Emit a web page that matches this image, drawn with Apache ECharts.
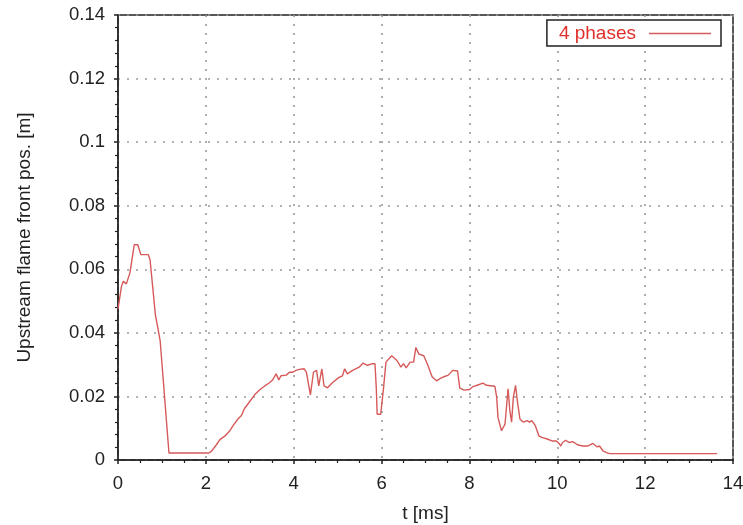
<!DOCTYPE html>
<html><head><meta charset="utf-8">
<script src="https://cdn.jsdelivr.net/npm/echarts@6/dist/echarts.min.js"></script>
<style>html,body{margin:0;padding:0;background:#fff}#c{width:743px;height:525px}</style>
</head><body><div id="c"></div>
<script>
const seriesName = '4 phases';
const tValues = [0.0,0.02,0.08,0.12,0.19,0.27,0.37,0.45,0.52,0.69,0.73,0.85,0.96,1.16,1.5,2.0,2.07,2.13,2.24,2.32,2.43,2.54,2.62,2.73,2.81,2.88,3.0,3.11,3.22,3.34,3.45,3.52,3.6,3.66,3.71,3.83,3.9,3.98,4.05,4.13,4.24,4.29,4.38,4.45,4.52,4.57,4.64,4.69,4.77,4.88,5.03,5.11,5.16,5.22,5.34,5.49,5.58,5.68,5.79,5.85,5.88,5.9,5.98,6.04,6.1,6.23,6.35,6.44,6.5,6.56,6.65,6.73,6.78,6.85,6.96,7.04,7.15,7.25,7.33,7.42,7.52,7.62,7.73,7.78,7.88,8.0,8.08,8.19,8.31,8.38,8.58,8.62,8.65,8.73,8.81,8.85,8.88,8.92,8.96,9.0,9.05,9.09,9.15,9.23,9.31,9.37,9.42,9.5,9.58,9.65,9.77,9.88,9.98,10.04,10.08,10.12,10.19,10.27,10.35,10.46,10.58,10.69,10.81,10.91,10.96,11.04,11.12,11.19,12.0,13.0,13.64];
const posValues = [0.0475,0.048,0.0547,0.0562,0.0554,0.0588,0.0677,0.0677,0.0646,0.0646,0.063,0.0458,0.0375,0.0022,0.0022,0.0022,0.0022,0.0028,0.0048,0.0064,0.0075,0.0091,0.0108,0.0129,0.014,0.0162,0.0184,0.0205,0.022,0.0233,0.0243,0.0252,0.0271,0.0252,0.0265,0.0267,0.0276,0.0276,0.0282,0.0285,0.0287,0.0276,0.0205,0.0276,0.0282,0.0233,0.0287,0.0233,0.0227,0.0243,0.026,0.0265,0.0287,0.0271,0.0282,0.0292,0.0305,0.0298,0.0303,0.0303,0.0226,0.0144,0.0144,0.022,0.0308,0.0328,0.0313,0.0292,0.0303,0.029,0.0308,0.0308,0.0354,0.0333,0.0328,0.0303,0.0262,0.0249,0.0256,0.0262,0.0267,0.0282,0.028,0.0226,0.022,0.0222,0.0231,0.0236,0.0242,0.0235,0.0232,0.0198,0.0134,0.0092,0.0113,0.0177,0.0224,0.0156,0.0119,0.0198,0.0235,0.0187,0.0129,0.0119,0.0124,0.0119,0.0124,0.0108,0.0076,0.0071,0.0066,0.006,0.006,0.0052,0.0044,0.0055,0.0062,0.0055,0.0058,0.0048,0.0044,0.0044,0.0052,0.0041,0.0044,0.0029,0.0023,0.002,0.002,0.002,0.002];
const xTicks = [0,2,4,6,8,10,12,14];
const yTicks = [0,0.02,0.04,0.06,0.08,0.1,0.12,0.14];

const data = tValues.map((t,i)=>[t,posValues[i]]);
const chart = echarts.init(document.getElementById('c'), null, {renderer:'canvas'});
const font = 'Liberation Sans, Arial, sans-serif';
const lineColor = '#d65a5a';
const grayGrid = {show:true, lineStyle:{color:'#9a9a9a', type:[2,7], width:1.6}};
chart.setOption({
  animation:false,
  backgroundColor:'#fff',
  grid:{left:118,right:10,top:15,bottom:65,containLabel:false,outerBoundsMode:'none',show:true,borderColor:'#222',borderWidth:1.5,backgroundColor:'transparent'},
  legend:{
    right:22, top:20, orient:'horizontal',
    data:[{name:seriesName, icon:'rect'}],
    align:'right', itemWidth:62, itemHeight:1.5, itemGap:10,
    borderColor:'#222', borderWidth:1.5, padding:[4,10,3,12], borderRadius:0,
    backgroundColor:'#fff',
    textStyle:{color:'#e0302c', fontSize:19, fontFamily:font, padding:[0,8,0,0]}
  },
  xAxis:{
    type:'value', min:0, max:14, interval:2,
    name:'t [ms]', nameLocation:'middle', nameGap:44,
    nameTextStyle:{color:'#222', fontSize:19, fontFamily:font},
    axisLine:{show:true, onZero:false, lineStyle:{color:'#222', width:1.5}},
    axisTick:{show:true, inside:false, length:4, lineStyle:{color:'#222', width:1.5}},
    minorTick:{show:true, splitNumber:4, length:3, lineStyle:{color:'#222', width:1.2}},
    axisLabel:{color:'#222', fontSize:18.5, fontFamily:font, margin:14, hideOverlap:false,
      formatter:v=>xTicks.includes(v)?String(v):''},
    splitLine:grayGrid
  },
  yAxis:{
    type:'value', min:0, max:0.14, interval:0.02,
    name:'Upstream flame front pos. [m]', nameLocation:'middle', nameGap:84,
    nameTextStyle:{color:'#222', fontSize:19, fontFamily:font},
    axisLine:{show:true, onZero:false, lineStyle:{color:'#222', width:1.5}},
    axisTick:{show:true, inside:false, length:4, lineStyle:{color:'#222', width:1.5}},
    minorTick:{show:true, splitNumber:5, length:3, lineStyle:{color:'#222', width:1.2}},
    axisLabel:{color:'#222', fontSize:18.5, fontFamily:font, margin:13, hideOverlap:false,
      formatter:v=>{const m=yTicks.find(t=>Math.abs(t-v)<1e-9);return m===undefined?'':String(+m.toFixed(2));}},
    splitLine:grayGrid
  },
  series:[{
    name:seriesName, type:'line', data:data, showSymbol:false, symbol:'none',
    lineStyle:{color:lineColor, width:1.4}, itemStyle:{color:lineColor}, z:3
  }]
});
</script></body></html>
